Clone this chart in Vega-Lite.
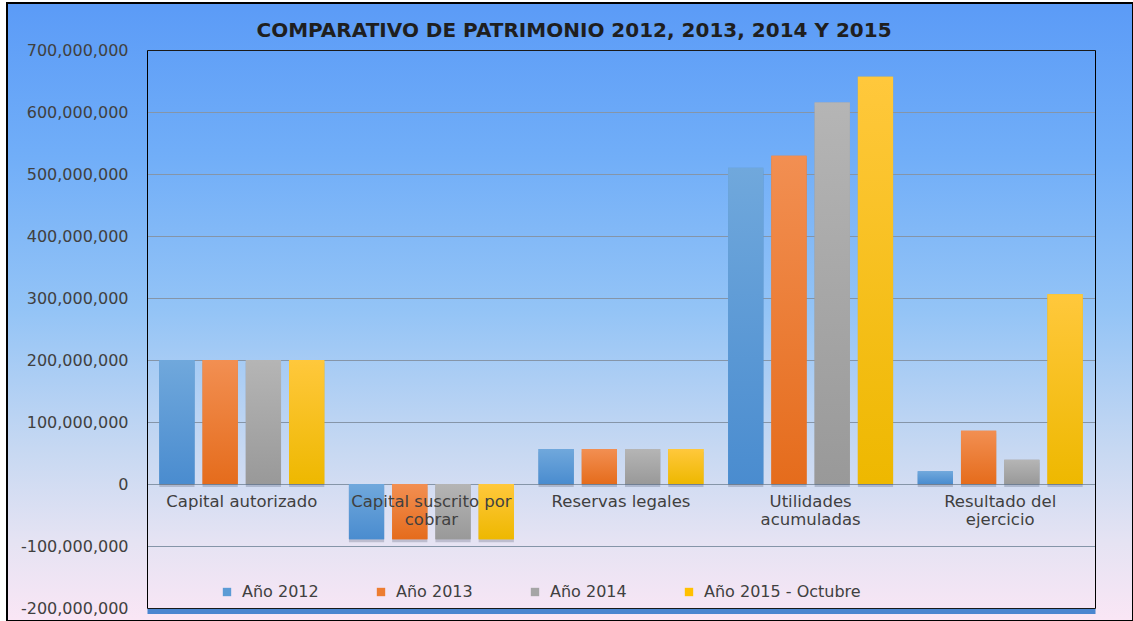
{
  "$schema": "https://vega.github.io/schema/vega-lite/v6.json",
  "width": 1126,
  "height": 618,
  "padding": {"left": 7, "top": 3, "right": 0, "bottom": 0},
  "autosize": {"type": "none"},
  "background": "#ffffff",
  "title": {
    "text": "COMPARATIVO DE PATRIMONIO 2012, 2013, 2014 Y 2015",
    "anchor": "middle",
    "frame": "group",
    "offset": -38,
    "dx": 4,
    "font": "DejaVu Sans",
    "fontSize": 20,
    "fontWeight": "bold",
    "color": "#1f1f1f"
  },
  "view": {
    "fill": {
      "gradient": "linear",
      "x1": 0, "y1": 0, "x2": 0, "y2": 1,
      "stops": [
        {"offset": 0, "color": "#5b9bf7"},
        {"offset": 0.25, "color": "#71aef8"},
        {"offset": 0.5, "color": "#94c4f6"},
        {"offset": 0.72, "color": "#c6d8f2"},
        {"offset": 0.87, "color": "#e5e3f3"},
        {"offset": 1, "color": "#fae6f5"}
      ]
    },
    "stroke": "#000000",
    "strokeWidth": 2
  },
  "data": {
    "values": [
      {"categoria": "Capital autorizado", "serie": "Año 2012", "valor": 200000000},
      {"categoria": "Capital autorizado", "serie": "Año 2013", "valor": 200000000},
      {"categoria": "Capital autorizado", "serie": "Año 2014", "valor": 200000000},
      {"categoria": "Capital autorizado", "serie": "Año 2015 - Octubre", "valor": 200000000},
      {"categoria": "Capital suscrito por cobrar", "serie": "Año 2012", "valor": -89000000},
      {"categoria": "Capital suscrito por cobrar", "serie": "Año 2013", "valor": -89000000},
      {"categoria": "Capital suscrito por cobrar", "serie": "Año 2014", "valor": -89000000},
      {"categoria": "Capital suscrito por cobrar", "serie": "Año 2015 - Octubre", "valor": -89000000},
      {"categoria": "Reservas legales", "serie": "Año 2012", "valor": 56500000},
      {"categoria": "Reservas legales", "serie": "Año 2013", "valor": 56500000},
      {"categoria": "Reservas legales", "serie": "Año 2014", "valor": 56500000},
      {"categoria": "Reservas legales", "serie": "Año 2015 - Octubre", "valor": 56500000},
      {"categoria": "Utilidades acumuladas", "serie": "Año 2012", "valor": 510000000},
      {"categoria": "Utilidades acumuladas", "serie": "Año 2013", "valor": 529500000},
      {"categoria": "Utilidades acumuladas", "serie": "Año 2014", "valor": 615500000},
      {"categoria": "Utilidades acumuladas", "serie": "Año 2015 - Octubre", "valor": 657000000},
      {"categoria": "Resultado del ejercicio", "serie": "Año 2012", "valor": 20500000},
      {"categoria": "Resultado del ejercicio", "serie": "Año 2013", "valor": 86000000},
      {"categoria": "Resultado del ejercicio", "serie": "Año 2014", "valor": 39000000},
      {"categoria": "Resultado del ejercicio", "serie": "Año 2015 - Octubre", "valor": 306000000}
    ]
  },
  "layer": [
    {
      "mark": {"type": "bar", "color": "#1e2a40", "opacity": 0.2, "yOffset": 3},
      "encoding": {
        "x": {
          "field": "categoria", "type": "nominal", "sort": null,
          "scale": {"range": [140, 1088], "paddingInner": 0.13, "paddingOuter": 0.065},
          "axis": {"orient": "bottom", "offset": -10, "title": null, "labels": false, "ticks": false, "grid": false, "domain": true, "domainColor": "#4a86d0", "domainWidth": 5}
        },
        "xOffset": {"field": "serie", "type": "nominal", "scale": {"paddingInner": 0.186}},
        "y": {
          "field": "valor", "type": "quantitative",
          "scale": {"domain": [-200000000, 700000000], "range": [605, 47], "nice": false, "zero": false},
          "axis": {"orient": "right", "offset": -38, "title": null, "labels": false, "ticks": false, "grid": false, "domain": true, "domainColor": "#000000", "domainWidth": 1}
        }
      }
    },
    {
      "mark": {"type": "bar"},
      "encoding": {
        "x": {
          "field": "categoria", "type": "nominal", "sort": null,
          "scale": {"range": [140, 1088], "paddingInner": 0.13, "paddingOuter": 0.065},
          "axis": {
            "orient": "bottom", "offset": -137, "title": null, "ticks": false, "domain": false, "grid": false, "zindex": 2,
            "labelAngle": 0, "labelPadding": 9, "labelFont": "DejaVu Sans", "labelFontSize": 16.5, "labelColor": "#404040",
            "labelLimit": 400, "labelOverlap": false, "labelLineHeight": 18,
            "labelExpr": "datum.label == 'Capital suscrito por cobrar' ? ['Capital suscrito por', 'cobrar'] : datum.label == 'Utilidades acumuladas' ? ['Utilidades', 'acumuladas'] : datum.label == 'Resultado del ejercicio' ? ['Resultado del', 'ejercicio'] : datum.label"
          }
        },
        "xOffset": {"field": "serie", "type": "nominal", "scale": {"paddingInner": 0.186}},
        "y": {
          "field": "valor", "type": "quantitative",
          "scale": {"domain": [-200000000, 700000000], "range": [605, 47], "nice": false, "zero": false},
          "axis": {
            "orient": "left", "offset": -140, "title": null, "ticks": false,
            "values": [-200000000, -100000000, 0, 100000000, 200000000, 300000000, 400000000, 500000000, 600000000, 700000000],
            "labelExpr": "replace(format(datum.value, ','), '−', '-')",
            "labelPadding": 19, "labelFont": "DejaVu Sans", "labelFontSize": 16, "labelColor": "#404040",
            "domain": true, "domainColor": "#000000", "domainWidth": 1,
            "grid": true,
            "gridColor": {"condition": {"test": "datum.value === 700000000 || datum.value === -200000000", "value": "#1a1a1a"}, "value": "#8595a8"},
            "gridWidth": 1
          }
        },
        "color": {
          "field": "serie", "type": "nominal",
          "scale": {"range": ["#5b9bd5", "#ed7d31", "#a5a5a5", "#ffc000"]},
          "legend": {
            "title": null, "orient": "none", "direction": "horizontal", "legendX": 212, "legendY": 581,
            "symbolType": "square", "symbolSize": 70, "symbolStrokeWidth": 0,
            "labelFont": "DejaVu Sans", "labelFontSize": 16, "labelColor": "#404040",
            "labelOffset": 7, "columnPadding": 54, "labelLimit": 300
          }
        }
      }
    },
    {
      "transform": [{"filter": "datum.serie == 'Año 2012'"}],
      "mark": {"type": "bar", "fill": {"gradient": "linear", "x1": 0, "y1": 0, "x2": 0, "y2": 1, "stops": [{"offset": 0, "color": "#70a8dc"}, {"offset": 1, "color": "#4a8ccf"}]}},
      "encoding": {
        "x": {"field": "categoria", "type": "nominal", "sort": null, "axis": null},
        "xOffset": {"field": "serie", "type": "nominal"},
        "y": {"field": "valor", "type": "quantitative", "axis": null}
      }
    },
    {
      "transform": [{"filter": "datum.serie == 'Año 2013'"}],
      "mark": {"type": "bar", "fill": {"gradient": "linear", "x1": 0, "y1": 0, "x2": 0, "y2": 1, "stops": [{"offset": 0, "color": "#f28f52"}, {"offset": 1, "color": "#e56c1c"}]}},
      "encoding": {
        "x": {"field": "categoria", "type": "nominal", "sort": null, "axis": null},
        "xOffset": {"field": "serie", "type": "nominal"},
        "y": {"field": "valor", "type": "quantitative", "axis": null}
      }
    },
    {
      "transform": [{"filter": "datum.serie == 'Año 2014'"}],
      "mark": {"type": "bar", "fill": {"gradient": "linear", "x1": 0, "y1": 0, "x2": 0, "y2": 1, "stops": [{"offset": 0, "color": "#b5b5b5"}, {"offset": 1, "color": "#999999"}]}},
      "encoding": {
        "x": {"field": "categoria", "type": "nominal", "sort": null, "axis": null},
        "xOffset": {"field": "serie", "type": "nominal"},
        "y": {"field": "valor", "type": "quantitative", "axis": null}
      }
    },
    {
      "transform": [{"filter": "datum.serie == 'Año 2015 - Octubre'"}],
      "mark": {"type": "bar", "fill": {"gradient": "linear", "x1": 0, "y1": 0, "x2": 0, "y2": 1, "stops": [{"offset": 0, "color": "#ffc83c"}, {"offset": 1, "color": "#eeb800"}]}},
      "encoding": {
        "x": {"field": "categoria", "type": "nominal", "sort": null, "axis": null},
        "xOffset": {"field": "serie", "type": "nominal"},
        "y": {"field": "valor", "type": "quantitative", "axis": null}
      }
    }
  ],
  "resolve": {"axis": {"x": "independent", "y": "independent"}},
  "config": {
    "font": "DejaVu Sans"
  }
}
